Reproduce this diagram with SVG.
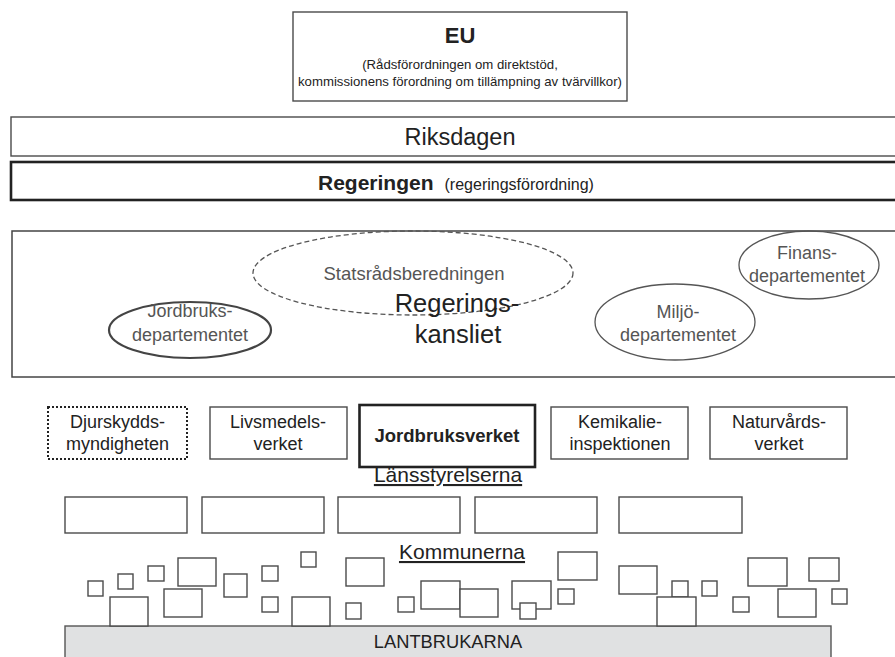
<svg xmlns="http://www.w3.org/2000/svg" width="895" height="657" viewBox="0 0 895 657">
<style>
text{font-family:"Liberation Sans",Arial,sans-serif;fill:#222;}
.c{text-anchor:middle;}
.box{fill:#fff;stroke:#4a4a4a;stroke-width:1.4;}
.thick{fill:#fff;stroke:#222;stroke-width:2.6;}
.ell{fill:none;stroke:#555;stroke-width:1.3;}
.gray{fill:#555;}
.k{fill:#fff;stroke:#4a4a4a;stroke-width:1.4;}
.ag{font-size:18px;}
.dep{font-size:18px;fill:#555;}
.u{text-decoration:underline;font-size:21px;}
</style>
<rect width="895" height="657" fill="#fff"/>

<g id="eu">
<rect class="box" x="293" y="12" width="334" height="89"/>
<text class="c" x="460" y="43" font-size="22" font-weight="bold">EU</text>
<text class="c" x="460" y="69" font-size="13.2">(Rådsförordningen om direktstöd,</text>
<text class="c" x="460" y="86" font-size="13.2">kommissionens förordning om tillämpning av tvärvillkor)</text>
</g>

<g id="riksdagen">
<rect class="box" x="11" y="117" width="900" height="39"/>
<text class="c" x="460" y="145" font-size="23.5">Riksdagen</text>
</g>

<g id="regeringen">
<rect class="thick" x="11" y="162" width="900" height="38"/>
<text x="318" y="190"><tspan font-size="21" font-weight="bold">Regeringen</tspan><tspan font-size="16" dx="11">(regeringsförordning)</tspan></text>
</g>

<g id="regeringskansliet">
<rect fill="#fff" stroke="#444" stroke-width="1.5" x="12" y="231" width="900" height="146"/>
</g>

<g id="statsradsberedningen">
<ellipse class="ell" cx="413" cy="273" rx="160" ry="42" stroke-dasharray="5 3"/>
<text class="c gray" x="414" y="280" font-size="18.5">Statsrådsberedningen</text>
</g>

<g id="regeringskansliet-label">
<text class="c" x="457" y="312" font-size="25.5">Regerings-</text>
<text class="c" x="458" y="343" font-size="25.5">kansliet</text>
</g>

<g id="jordbruksdepartementet">
<ellipse cx="190" cy="330" rx="81" ry="28" fill="none" stroke="#444" stroke-width="2.2"/>
<text class="c dep" x="190" y="317">Jordbruks-</text>
<text class="c dep" x="190" y="341">departementet</text>
</g>

<g id="miljodepartementet">
<ellipse class="ell" cx="675" cy="322" rx="80" ry="38"/>
<text class="c dep" x="678" y="318">Miljö-</text>
<text class="c dep" x="678" y="341">departementet</text>
</g>

<g id="finansdepartementet">
<ellipse class="ell" cx="809" cy="265" rx="70" ry="34"/>
<text class="c dep" x="807" y="259" font-size="17.5">Finans-</text>
<text class="c dep" x="807" y="282" font-size="17.5">departementet</text>
</g>

<g id="djurskyddsmyndigheten">
<rect x="48" y="407" width="139" height="52" fill="#fff" stroke="#222" stroke-width="2" stroke-dasharray="2 2"/>
<text class="c ag" x="117.5" y="428">Djurskydds-</text>
<text class="c ag" x="117.5" y="450">myndigheten</text>
</g>

<g id="livsmedelsverket">
<rect class="box" x="210" y="407" width="137" height="52"/>
<text class="c ag" x="278" y="428">Livsmedels-</text>
<text class="c ag" x="278" y="450">verket</text>
</g>

<g id="jordbruksverket">
<rect class="thick" x="359.5" y="405" width="175.5" height="62"/>
<text class="c" x="447" y="442" font-size="18.5" font-weight="bold">Jordbruksverket</text>
</g>

<g id="kemikalieinspektionen">
<rect class="box" x="551" y="407" width="137" height="52"/>
<text class="c ag" x="620" y="428">Kemikalie-</text>
<text class="c ag" x="620" y="450">inspektionen</text>
</g>

<g id="naturvardsverket">
<rect class="box" x="710" y="407" width="137" height="52"/>
<text class="c ag" x="779" y="428">Naturvårds-</text>
<text class="c ag" x="779" y="450">verket</text>
</g>

<g id="lansstyrelserna">
<text class="c u" x="448" y="482">Länsstyrelserna</text>
<rect class="box" x="65" y="497" width="122" height="36"/>
<rect class="box" x="202" y="497" width="122" height="36"/>
<rect class="box" x="338" y="497" width="122" height="36"/>
<rect class="box" x="475" y="497" width="122" height="36"/>
<rect class="box" x="619" y="497" width="123" height="36"/>
</g>

<g id="lantbrukarna">
<rect x="65" y="626" width="766" height="40" fill="#e0e1e2" stroke="#555" stroke-width="1.4"/>
<text class="c" x="448" y="648" font-size="18.3">LANTBRUKARNA</text>
</g>

<g id="kommunerna">
<text class="c u" x="462" y="559">Kommunerna</text>
<rect class="k" x="88" y="581" width="15" height="15"/>
<rect class="k" x="118" y="574" width="15" height="15"/>
<rect class="k" x="148" y="566" width="16" height="15"/>
<rect class="k" x="178" y="558" width="38" height="28"/>
<rect class="k" x="110" y="597" width="38" height="29"/>
<rect class="k" x="164" y="589" width="38" height="28"/>
<rect class="k" x="224" y="574" width="23" height="23"/>
<rect class="k" x="262" y="566" width="16" height="15"/>
<rect class="k" x="262" y="597" width="16" height="15"/>
<rect class="k" x="301" y="552" width="15" height="15"/>
<rect class="k" x="292" y="597" width="38" height="29"/>
<rect class="k" x="346" y="558" width="38" height="28"/>
<rect class="k" x="346" y="603" width="15" height="16"/>
<rect class="k" x="398" y="597" width="16" height="15"/>
<rect class="k" x="421" y="581" width="39" height="28"/>
<rect class="k" x="460" y="589" width="38" height="28"/>
<rect class="k" x="512" y="581" width="39" height="28"/>
<rect class="k" x="520" y="603" width="16" height="16"/>
<rect class="k" x="558" y="552" width="39" height="28"/>
<rect class="k" x="558" y="589" width="16" height="15"/>
<rect class="k" x="619" y="566" width="38" height="28"/>
<rect class="k" x="672" y="581" width="16" height="16"/>
<rect class="k" x="657" y="597" width="39" height="29"/>
<rect class="k" x="702" y="581" width="15" height="15"/>
<rect class="k" x="733" y="597" width="16" height="15"/>
<rect class="k" x="748" y="558" width="39" height="28"/>
<rect class="k" x="809" y="558" width="30" height="23"/>
<rect class="k" x="778" y="589" width="38" height="28"/>
<rect class="k" x="832" y="589" width="15" height="15"/>
</g>

<g id="connectors"></g>
</svg>
